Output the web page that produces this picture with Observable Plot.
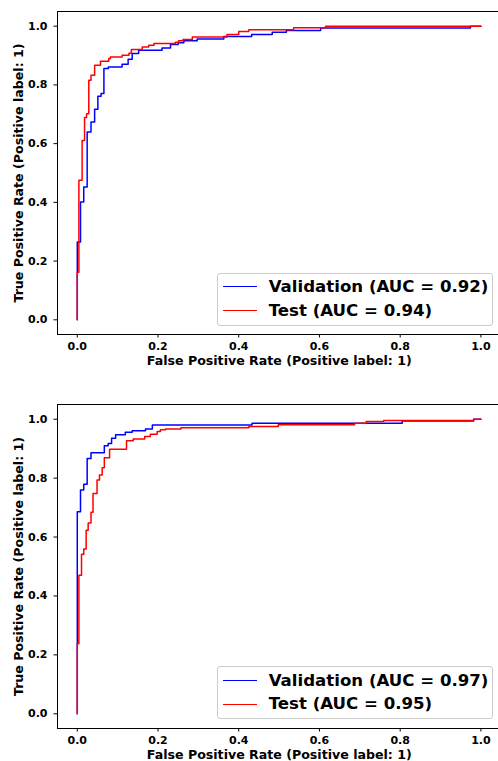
<!DOCTYPE html>
<html>
<head>
<meta charset="utf-8">
<script src="https://cdn.jsdelivr.net/npm/d3@7"></script>
<script src="https://cdn.jsdelivr.net/npm/@observablehq/plot@0.6"></script>
<style>
  html, body { margin: 0; padding: 0; background: #fff; }
  body { width: 498px; height: 761px; overflow: hidden; font-family: "DejaVu Sans", sans-serif; }
  .panel { position: relative; width: 498px; }
  .panel svg { display: block; }
  .legend { position: absolute; box-sizing: border-box; border: 1px solid #cccccc; border-radius: 3px;
            background: rgba(255,255,255,0.8); font-family: "DejaVu Sans", sans-serif; font-weight: bold; font-size: 16.6px; color: #000; }
  .legend .row { position: absolute; left: 0; height: 0; width: 100%; }
  .legend .swatch { position: absolute; left: 5px; width: 34px; height: 0; border-top: 1.5px solid; top: -0.75px; }
  .legend .lbl { position: absolute; left: 51px; top: -11px; line-height: 22px; white-space: nowrap; }
</style>
</head>
<body>
<div id="chart"></div>
<script>
// ---------- data ----------
const seriesNames = ["Validation", "Test"];
const seriesColors = ["blue", "red"];
const xTicks = [0, 0.2, 0.4, 0.6, 0.8, 1.0];
const yTicks = [0, 0.2, 0.4, 0.6, 0.8, 1.0];
const xLabel = "False Positive Rate (Positive label: 1)";
const yLabel = "True Positive Rate (Positive label: 1)";

// Panel 1
const aucA = [0.92, 0.94];
const valFprA = [0, 0, 0.008, 0.016, 0.0245, 0.034, 0.043, 0.051, 0.059, 0.066, 0.077, 0.111, 0.126, 0.136, 0.152, 0.21, 0.231, 0.25, 0.264, 0.297, 0.363, 0.432, 0.483, 0.518, 0.603, 0.974, 1.0];
const valTprA = [0, 0.265, 0.401, 0.452, 0.640, 0.674, 0.717, 0.761, 0.771, 0.856, 0.861, 0.870, 0.887, 0.907, 0.918, 0.926, 0.938, 0.944, 0.950, 0.956, 0.965, 0.972, 0.979, 0.985, 0.994, 1.0, 1.0];
const testFprA = [0, 0, 0.004, 0.012, 0.018, 0.023, 0.0285, 0.034, 0.043, 0.0575, 0.078, 0.082, 0.111, 0.128, 0.134, 0.161, 0.177, 0.19, 0.243, 0.251, 0.262, 0.285, 0.371, 0.40, 0.425, 0.536, 0.615, 1.0];
const testTprA = [0, 0.162, 0.475, 0.611, 0.689, 0.702, 0.816, 0.833, 0.867, 0.881, 0.89, 0.895, 0.901, 0.908, 0.921, 0.929, 0.935, 0.941, 0.945, 0.95, 0.955, 0.963, 0.972, 0.982, 0.988, 0.995, 1.0, 1.0];

// Panel 2
const aucB = [0.97, 0.95];
const valFprB = [0, 0, 0.008, 0.016, 0.0245, 0.034, 0.067, 0.0765, 0.085, 0.095, 0.119, 0.136, 0.169, 0.186, 0.433, 0.805, 0.982, 1.0];
const valTprB = [0, 0.686, 0.76, 0.779, 0.867, 0.886, 0.91, 0.918, 0.935, 0.947, 0.956, 0.961, 0.967, 0.98, 0.986, 0.994, 1.0, 1.0];
const testFprB = [0, 0, 0.004, 0.0105, 0.016, 0.022, 0.027, 0.034, 0.039, 0.049, 0.055, 0.0617, 0.067, 0.08, 0.122, 0.1385, 0.167, 0.181, 0.198, 0.206, 0.2185, 0.257, 0.425, 0.498, 0.687, 0.716, 0.759, 0.982, 1.0];
const testTprB = [0, 0.238, 0.47, 0.542, 0.559, 0.623, 0.648, 0.684, 0.748, 0.794, 0.811, 0.835, 0.869, 0.898, 0.927, 0.933, 0.941, 0.949, 0.958, 0.964, 0.967, 0.971, 0.975, 0.981, 0.986, 0.992, 0.996, 1.0, 1.0];

// ---------- drawing ----------
const toPts = (f, t) => f.map((x, i) => ({fpr: x, tpr: t[i]}));
const xDomain = [-0.049, 1.0436];
const yDomain = [-0.05, 1.05];
const fmt = d3.format(".1f");

function panel(series, auc, opts) {
  const marks = [
    Plot.ruleY([yDomain[0], yDomain[1]], {stroke: "#000", strokeWidth: 1}),
    Plot.ruleX([xDomain[0]], {stroke: "#000", strokeWidth: 1}),
    Plot.axisX({ticks: xTicks, tickFormat: fmt, tickSize: 3.5, tickPadding: 4.6, fontSize: 11, fontWeight: "bold", label: null, stroke: "#000"}),
    Plot.axisY({ticks: yTicks, tickFormat: fmt, tickSize: 3.5, tickPadding: 6.5, fontSize: 11, fontWeight: "bold", label: null, stroke: "#000"}),
    Plot.text([xLabel], {frameAnchor: "bottom", lineAnchor: "middle", textAnchor: "middle", text: d => d, dy: 26.5, dx: 1.3, fontSize: 12.6, fontWeight: "bold", fill: "#000"}),
    Plot.text([yLabel], {frameAnchor: "left", lineAnchor: "middle", textAnchor: "middle", text: d => d, rotate: -90, dx: -39, fontSize: 12.6, fontWeight: "bold", fill: "#000"})
  ];
  series.forEach((s, i) => {
    marks.push(Plot.line(s, {x: "fpr", y: "tpr", curve: "step-after", stroke: seriesColors[i], strokeWidth: 1.5}));
  });
  const svg = Plot.plot({
    width: 498,
    height: opts.height,
    marginLeft: 57,
    marginRight: 0,
    marginTop: opts.marginTop,
    marginBottom: opts.marginBottom,
    style: {fontFamily: "DejaVu Sans", color: "#000", background: "transparent", overflow: "visible"},
    x: {domain: xDomain},
    y: {domain: yDomain},
    marks
  });
  const wrap = document.createElement("div");
  wrap.className = "panel";
  wrap.appendChild(svg);
  const lg = document.createElement("div");
  lg.className = "legend";
  Object.assign(lg.style, opts.legend);
  seriesNames.forEach((name, i) => {
    const row = document.createElement("div");
    row.className = "row";
    row.style.top = opts.rowTops[i] + "px";
    const sw = document.createElement("div");
    sw.className = "swatch";
    sw.style.borderColor = seriesColors[i];
    const lb = document.createElement("div");
    lb.className = "lbl";
    lb.textContent = `${name} (AUC = ${auc[i].toFixed(2)})`;
    row.appendChild(sw);
    row.appendChild(lb);
    lg.appendChild(row);
  });
  wrap.appendChild(lg);
  return wrap;
}

const root = document.getElementById("chart");
root.appendChild(panel([toPts(valFprA, valTprA), toPts(testFprA, testTprA)], aucA, {
  height: 380, marginTop: 11, marginBottom: 46,
  legend: {left: "216.7px", top: "272.7px", width: "276px", height: "53.3px"},
  rowTops: [13.3, 37.3]
}));
root.appendChild(panel([toPts(valFprB, valTprB), toPts(testFprB, testTprB)], aucB, {
  height: 381, marginTop: 24, marginBottom: 33,
  legend: {left: "216.7px", top: "286px", width: "276px", height: "53.3px"},
  rowTops: [14, 37.3]
}));
</script>
</body>
</html>
